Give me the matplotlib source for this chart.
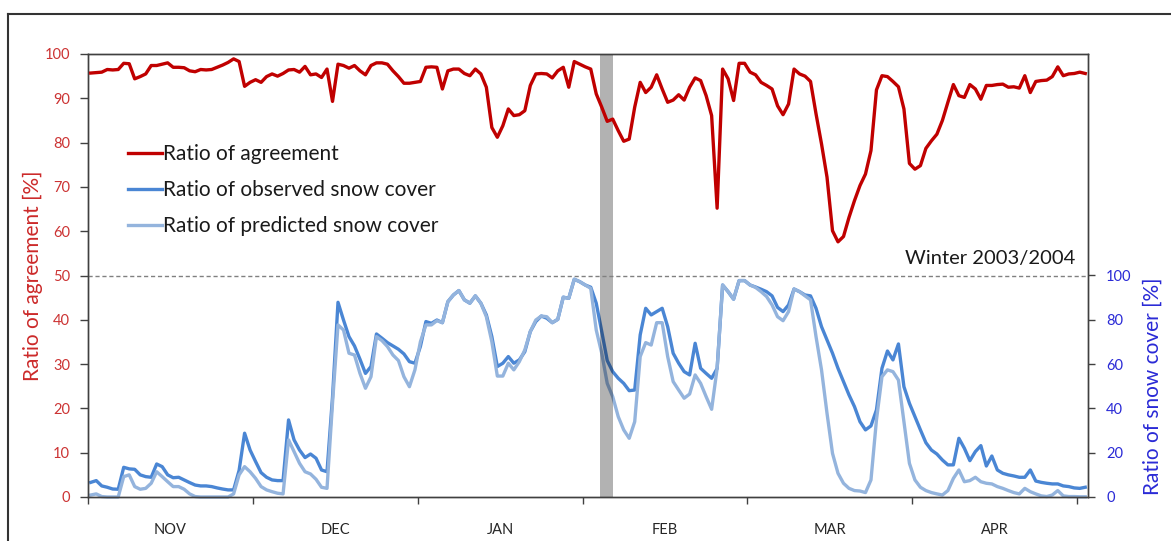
import matplotlib
matplotlib.use("Agg")
import matplotlib.pyplot as plt
from matplotlib.lines import Line2D
import numpy as np

plt.rcParams['font.family'] = ['Lato', 'DejaVu Sans']

# ---- data (days from 1 Nov 2003 to 30 Apr 2004) ----
agreement = [
    95.7, 95.8, 95.9, 96.5, 96.4, 96.5, 97.9, 97.8, 94.4, 94.9,
    95.5, 97.4, 97.4, 97.7, 98.0, 97.0, 97.0, 96.9, 96.2, 96.0,
    96.5, 96.4, 96.5, 97.0, 97.5, 98.1, 98.9, 98.3, 92.7, 93.6,
    94.2, 93.6, 94.9, 95.5, 95.0, 95.6, 96.4, 96.5, 95.9, 97.2,
    95.3, 95.5, 94.7, 96.6, 89.3, 97.7, 97.4, 96.8, 97.4, 96.2,
    95.3, 97.4, 98.0, 98.0, 97.7, 96.2, 94.9, 93.4, 93.4, 93.6,
    93.8, 97.0, 97.1, 97.0, 92.1, 96.2, 96.6, 96.6, 95.6, 95.1,
    96.6, 95.5, 92.5, 83.4, 81.2, 83.8, 87.6, 86.1, 86.3, 87.2,
    92.9, 95.5, 95.6, 95.5, 94.6, 96.2, 97.0, 92.5, 98.3, 97.7,
    97.1, 96.6, 91.0, 88.0, 84.8, 85.3, 82.7, 80.3, 80.8, 88.0,
    93.6, 91.3, 92.5, 95.3, 92.1, 89.1, 89.6, 90.8, 89.6, 92.5,
    94.6, 94.0, 90.6, 86.1, 65.2, 96.6, 94.4, 89.5, 97.9, 97.9,
    95.9, 95.3, 93.6, 92.9, 92.1, 88.3, 86.3, 88.7, 96.6, 95.5,
    95.0, 93.8, 86.5, 79.7, 72.2, 60.1, 57.6, 58.8, 63.1, 66.9,
    70.3, 72.9, 78.2, 91.9, 95.1, 94.9, 93.8, 92.6, 87.6, 75.3,
    74.0, 74.8, 78.7, 80.4, 81.9, 85.0, 89.1, 93.1, 90.6, 90.2,
    93.1, 92.1, 89.8, 92.9, 92.9, 93.1, 93.2, 92.5, 92.6, 92.3,
    95.1, 91.3, 93.8, 94.0, 94.1, 94.9, 97.1, 95.1, 95.5, 95.6,
    95.9, 95.6,
]

observed = [
    6.6, 7.4, 5.0, 4.4, 3.6, 3.5, 13.4, 12.7, 12.5, 10.0,
    9.2, 8.9, 14.9, 13.7, 10.0, 8.7, 8.9, 7.7, 6.5, 5.4,
    5.0, 5.0, 4.7, 4.1, 3.6, 3.2, 3.2, 12.0, 28.8, 21.2,
    16.0, 11.0, 8.9, 7.7, 7.4, 7.4, 34.8, 25.8, 21.2, 17.8,
    19.4, 17.5, 12.2, 11.4, 45.0, 87.9, 79.9, 72.4, 68.2, 62.2,
    55.8, 58.9, 73.6, 71.7, 69.7, 68.2, 66.7, 64.6, 61.1, 60.4,
    68.0, 79.2, 78.4, 79.9, 78.7, 88.2, 91.2, 93.2, 89.0, 87.5,
    90.8, 87.5, 82.2, 72.4, 58.9, 60.4, 63.4, 60.4, 61.9, 65.6,
    74.7, 79.2, 81.7, 80.7, 78.7, 80.2, 90.2, 89.7, 98.3, 97.2,
    95.7, 94.7, 87.5, 74.7, 61.6, 56.6, 53.6, 51.3, 48.0, 48.3,
    73.2, 85.2, 82.2, 83.7, 85.2, 76.9, 64.9, 60.4, 56.6, 55.1,
    69.4, 58.1, 55.8, 53.6, 58.0, 95.7, 92.7, 89.3, 97.7, 97.7,
    95.7, 94.8, 93.8, 92.7, 90.8, 85.6, 83.7, 86.7, 93.9, 92.7,
    91.2, 90.8, 85.2, 76.9, 70.9, 64.9, 58.1, 52.1, 46.1, 40.8,
    34.0, 30.3, 32.1, 39.3, 58.1, 65.9, 61.9, 69.1, 49.8, 42.3,
    36.3, 30.3, 24.5, 21.2, 19.4, 16.7, 14.5, 14.5, 26.5, 22.0,
    16.4, 20.5, 23.2, 14.0, 18.5, 12.2, 10.7, 10.0, 9.5, 8.9,
    8.9, 12.2, 7.2, 6.6, 6.2, 5.9, 5.9, 5.0, 4.7, 4.1,
    3.9, 4.4,
]

predicted = [
    0.9, 1.4, 0.2, 0.0, 0.0, 0.0, 9.2, 10.0, 4.7, 3.5,
    3.9, 6.2, 11.4, 9.2, 6.9, 4.7, 4.7, 3.5, 1.4, 0.2,
    0.0, 0.0, 0.0, 0.0, 0.0, 0.0, 1.4, 10.0, 13.7, 11.4,
    8.4, 4.7, 3.2, 2.4, 1.7, 1.4, 25.8, 20.5, 15.2, 11.4,
    10.4, 8.0, 4.4, 3.9, 42.3, 77.7, 75.4, 64.9, 64.1, 55.8,
    49.1, 54.3, 72.4, 70.6, 67.9, 64.1, 61.6, 54.3, 49.8, 57.4,
    70.1, 77.7, 77.7, 79.6, 78.7, 88.2, 91.2, 93.2, 89.0, 87.5,
    90.8, 87.5, 81.4, 70.1, 54.6, 54.6, 60.4, 57.4, 61.1, 66.4,
    74.7, 79.9, 81.7, 81.4, 78.7, 80.2, 90.2, 89.7, 98.3, 97.2,
    95.7, 94.2, 75.4, 64.9, 51.3, 45.3, 36.3, 30.3, 26.5, 34.0,
    63.4, 69.7, 68.6, 78.7, 78.7, 63.4, 52.1, 48.3, 44.6, 46.5,
    55.1, 51.3, 45.3, 39.6, 58.0, 95.7, 92.7, 89.3, 97.7, 97.7,
    95.7, 94.6, 92.7, 90.5, 86.7, 81.4, 79.6, 83.7, 93.9, 92.7,
    90.8, 89.0, 72.4, 57.4, 37.8, 19.7, 10.7, 6.2, 3.9, 2.9,
    2.7, 2.0, 7.7, 34.8, 54.3, 57.4, 56.6, 52.8, 34.0, 15.2,
    7.7, 4.4, 2.9, 2.0, 1.4, 0.9, 2.9, 8.4, 12.2, 6.9,
    7.4, 8.9, 6.9, 6.2, 5.9, 4.7, 3.9, 2.9, 2.0, 1.4,
    3.9, 2.4, 1.4, 0.5, 0.2, 0.9, 2.9, 0.5, 0.2, 0.2,
    0.1, 0.1,
]

months = ["NOV", "DEC", "JAN", "FEB", "MAR", "APR"]
highlight_days = (92.7, 95.0)   # grey band (early February)
left_ticks = [0, 10, 20, 30, 40, 50, 60, 70, 80, 90, 100]
right_ticks = [0, 20, 40, 60, 80, 100]

# ---- figure ----
W, H = 1171, 541
fig = plt.figure(figsize=(W / 100, H / 100), dpi=100)
L, R, B, T = 88, 1088, 497, 54
ax = fig.add_axes([L / W, 1 - B / H, (R - L) / W, (B - T) / H])
ax2 = ax.twinx()

days = np.arange(len(agreement))
red = '#c00000'
dark_blue = '#4a86d4'
light_blue = '#94b4dd'
edge = '#404040'

# snow cover lines on ax2 (0-200 so that 100 sits at half height)
l_obs, = ax2.plot(days, observed, color=dark_blue, lw=2.4, zorder=2,
                  solid_joinstyle='round', clip_on=False)
l_pred, = ax2.plot(days, predicted, color=light_blue, lw=2.4, zorder=2.1,
                   solid_joinstyle='round', clip_on=False)
ax2.axvspan(*highlight_days, color='black', alpha=0.30, lw=0, zorder=3)
ax2.set_ylim(0, 200)
ax2.set_yticks(right_ticks)
ax2.tick_params(axis='y', colors=edge, labelcolor='#2a2ad6', labelsize=10.5,
                length=5, width=1, pad=8)
ax2.set_ylabel("Ratio of snow cover [%]", color='#2a2ad6', fontsize=15)
ax2.yaxis.set_label_coords(1.055, 0.25)

# agreement on ax, drawn above ax2
ax.set_zorder(ax2.get_zorder() + 1)
ax.patch.set_visible(False)
ax.axhline(50, color='#808080', lw=1, ls=(0, (3, 2)), zorder=1)
l_agr, = ax.plot(days, agreement, color=red, lw=2.4, zorder=4,
                 solid_joinstyle='round')
ax.set_ylim(0, 100)
ax.set_yticks(left_ticks)
ax.tick_params(axis='y', colors=edge, labelcolor='#cc3333', labelsize=10.5,
               length=6, width=1, pad=7)
ax.set_ylabel("Ratio of agreement [%]", color='#cc2a2a', fontsize=15)
ax.yaxis.set_label_coords(-0.045, 0.5)

ax.set_xlim(-0.5, 181.5)
bounds = [-0.5 + 30 * k for k in range(7)]
centers = [-0.5 + 15 + 30 * k for k in range(6)]
ax.set_xticks(bounds)
ax.set_xticklabels([])
ax.set_xticks(centers, minor=True)
ax.set_xticklabels(months, minor=True)
ax.tick_params(axis='x', which='major', colors=edge, length=5, width=1,
               direction='out')
ax.tick_params(axis='x', which='minor', length=0, pad=19, labelsize=10.5,
               labelcolor='#262626')

for a in (ax, ax2):
    for s in a.spines.values():
        s.set_color(edge)
        s.set_linewidth(1)

ax.text((1075 - L) / (R - L), (B - 259) / (B - T), "Winter 2003/2004",
        transform=ax.transAxes, ha='right', va='center', fontsize=14.5,
        color='#1a1a1a')

leg = ax.legend([l_agr, l_obs, l_pred],
                ["Ratio of agreement", "Ratio of observed snow cover",
                 "Ratio of predicted snow cover"],
                loc='upper left', bbox_to_anchor=(128 / W, 1 - 144 / H),
                bbox_transform=fig.transFigure, frameon=False, fontsize=15,
                borderpad=0, borderaxespad=0, handlelength=1.63,
                handletextpad=0.06, labelspacing=0.78)
for t in leg.get_texts():
    t.set_color('#1a1a1a')

# outer frame
fig.add_artist(Line2D([8 / W, 8 / W], [1 - 14 / H, 0], color='#333333',
                      lw=1.5, transform=fig.transFigure))
fig.add_artist(Line2D([8 / W, 1], [1 - 14 / H, 1 - 14 / H], color='#333333',
                      lw=1.5, transform=fig.transFigure))

fig.savefig("out.png", dpi=100)
